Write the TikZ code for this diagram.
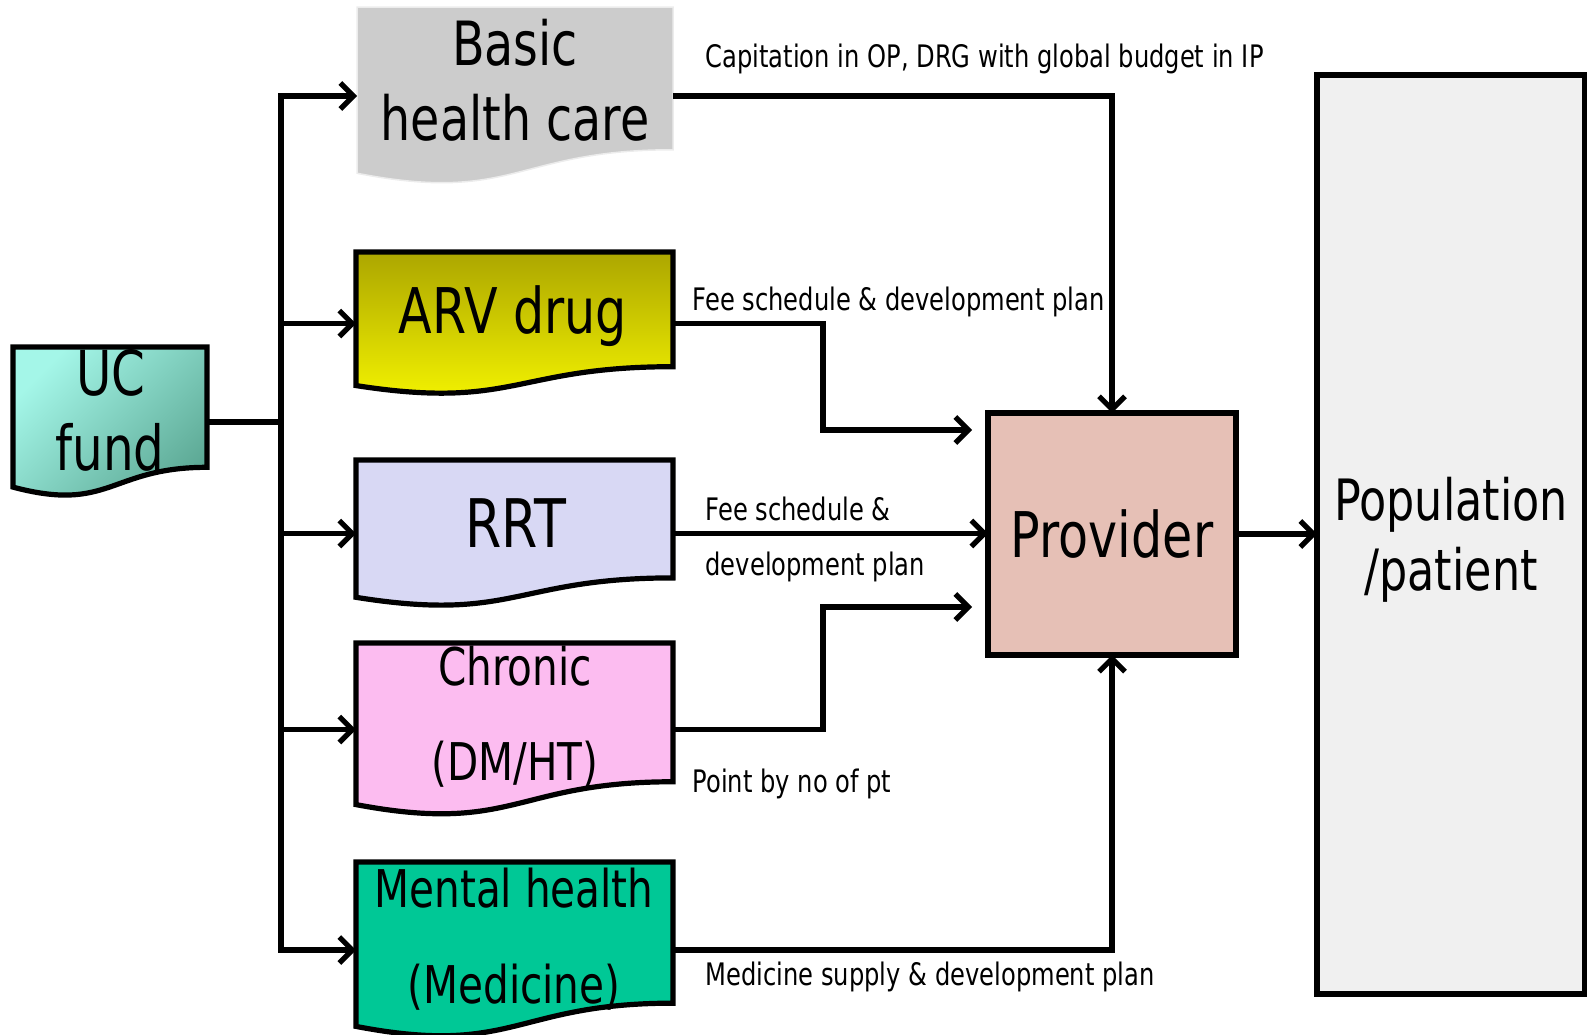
\documentclass[tikz,border=0pt]{standalone}
\usepackage{fontspec}
\newfontfamily\cf[FakeStretch=0.78]{DejaVu Sans}
\usetikzlibrary{arrows.meta,calc}
\definecolor{ucA}{HTML}{A4F6E8}
\definecolor{ucB}{HTML}{5CA894}
\definecolor{arvA}{HTML}{ACA600}
\definecolor{arvB}{HTML}{F8F800}
\definecolor{basicc}{HTML}{CCCCCC}
\definecolor{rrtc}{HTML}{D8D8F4}
\definecolor{chrc}{HTML}{FCBCF0}
\definecolor{mentc}{HTML}{00C896}
\definecolor{provc}{HTML}{E6C0B6}
\definecolor{popc}{HTML}{F0F0F0}
\newcommand{\docshape}[2]{%
  \path[#2] (#1.north west) -- (#1.north east) -- ($(#1.north east)!0.802!(#1.south east)$)
    .. controls ($(#1.north)!0.802!(#1.south)$) and ($(#1.north)!1.107!(#1.south)$) ..
    ($(#1.north west)!0.934!(#1.south west)$) -- cycle;}
\begin{document}
\begin{tikzpicture}[x=1pt,y=-1pt,line width=5.2pt,
  >={Straight Barb[length=13pt,width=26pt]},
  shapebox/.style={inner sep=0pt,outer sep=0pt,anchor=north west},
  txt/.style={inner sep=0pt,anchor=base},
  big/.style={font=\cf\fontsize{63}{74}\selectfont},
  mid/.style={font=\cf\fontsize{52}{60}\selectfont},
  lbl/.style={inner sep=0pt,anchor=base west,font=\cf\fontsize{31}{36}\selectfont}]
\useasboundingbox (0,0) rectangle (1587,1034);
% shape holders
\node[shapebox,minimum width=194pt,minimum height=150pt] (uc) at (13,347) {};
\node[shapebox,minimum width=316pt,minimum height=178pt] (basic) at (357,7) {};
\node[shapebox,minimum width=317pt,minimum height=143pt] (arv) at (356,252) {};
\node[shapebox,minimum width=317pt,minimum height=147pt] (rrt) at (356,460) {};
\node[shapebox,minimum width=317pt,minimum height=173pt] (chronic) at (356,643) {};
\node[shapebox,minimum width=317pt,minimum height=176pt] (mental) at (356,862) {};
\docshape{uc}{top color=ucA,bottom color=ucB,shading angle=45,draw=black}
\docshape{basic}{fill=basicc,draw=gray!15,line width=1.5pt}
\docshape{arv}{top color=arvA,bottom color=arvB,draw=black}
\docshape{rrt}{fill=rrtc,draw=black}
\docshape{chronic}{fill=chrc,draw=black}
\docshape{mental}{fill=mentc,draw=black}
\node[shapebox,draw,fill=provc,minimum width=248pt,minimum height=242pt,big] (provider) at (988,413) {Provider};
\node[shapebox,draw,fill=popc,minimum width=268pt,minimum height=919pt,align=center,
  font=\cf\fontsize{57}{70}\selectfont] (pop) at (1317,75) {\rule{0pt}{54pt}Population\\/patient};
% connectors
\coordinate (tr) at (281,420);
\coordinate (arvbend) at (823,430);
\coordinate (arvend) at (972,430);
\coordinate (chrbend) at (823,607);
\coordinate (chrend) at (972,607);
\draw (uc.east) -- (uc.east -| tr);
\draw[->] (uc.east -| tr) |- (basic.west);
\draw[->] (uc.east -| tr) |- (mental.west);
\draw[->] (arv.west -| tr) -- (arv.west);
\draw[->] (rrt.west -| tr) -- (rrt.west);
\draw[->] (chronic.west -| tr) -- (chronic.west);
\draw[->] (basic.east) -| (provider.north);
\draw[->] (arv.east) -| (arvbend) -- (arvend);
\draw[->] (rrt.east) -- (rrt.east -| provider.west);
\draw[->] (chronic.east) -| (chrbend) -- (chrend);
\draw[->] (mental.east) -| (provider.south);
\draw[->] (provider.east) -- (provider.east -| pop.west);
% box texts
\node[txt,font=\cf\fontsize{62}{70}\selectfont] (uct1) at (111,395) {UC};
\node[txt,font=\cf\fontsize{62}{70}\selectfont] (uct2) at (110,470) {fund};
\node[txt,font=\cf\fontsize{61}{74}\selectfont] (bt1) at (515,65) {Basic};
\node[txt,font=\cf\fontsize{61}{74}\selectfont] (bt2) at (515,140) {health care};
\node[txt,big] (arvt) at (513,333) {ARV drug};
\node[txt,font=\cf\fontsize{67}{70}\selectfont] (rrtt) at (516,547) {RRT};
\node[txt,mid] (ct1) at (515,685) {Chronic};
\node[txt,mid] (ct2) at (515,780) {(DM/HT)};
\node[txt,mid] (mt1) at (514,907) {Mental health};
\node[txt,mid] (mt2) at (514,1003) {(Medicine)};
% labels
\node[lbl] (l1) at (703,67) {Capitation in OP, DRG with global budget in IP};
\node[lbl] (l2) at (690,310) {Fee schedule \& development plan};
\node[lbl] (l3) at (703,520) {Fee schedule \&};
\node[lbl] (l4) at (703,575) {development plan};
\node[lbl] (l5) at (690,792) {Point by no of pt};
\node[lbl] (l6) at (703,985) {Medicine supply \& development plan};
\end{tikzpicture}
\end{document}
